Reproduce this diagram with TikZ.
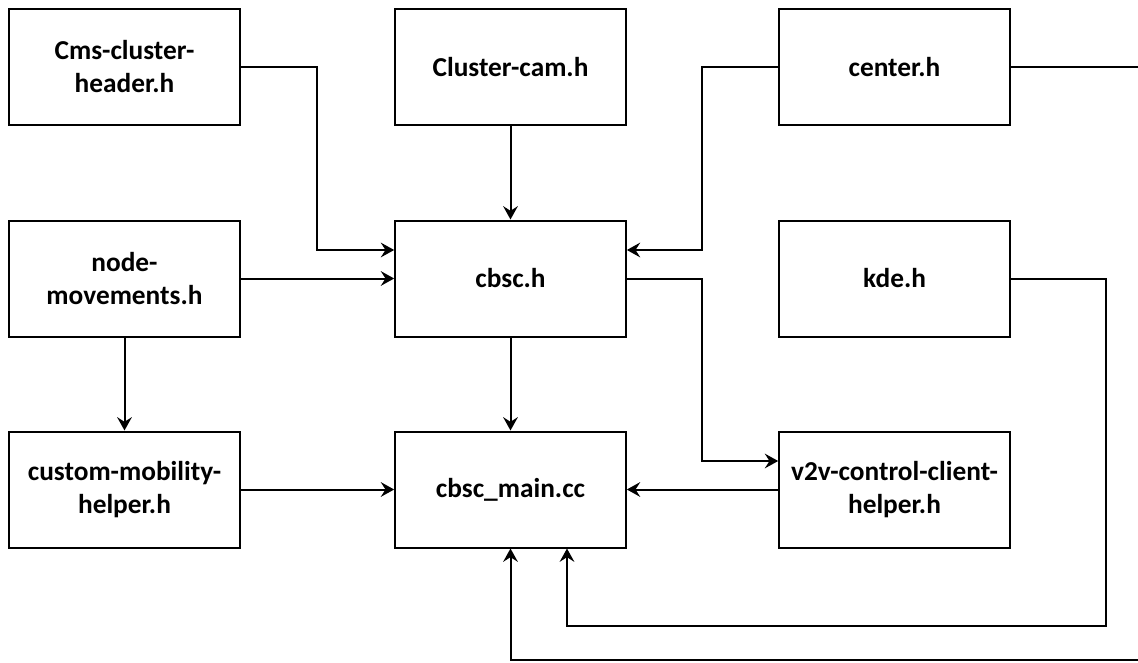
\documentclass[tikz,border=0pt]{standalone}
\usepackage{fontspec}
\setmainfont{Carlito}
\usetikzlibrary{arrows.meta, positioning}

\begin{document}
\begin{tikzpicture}[x=0.75pt, y=-0.75pt,
   filebox/.style={draw, line width=1.5pt, minimum width=173pt, minimum height=87pt,
      inner sep=0pt, align=center, font=\bfseries\fontsize{20.5}{24.75}\selectfont},
   link/.style={line width=1.5pt, -{Stealth[length=10pt, width=11pt, inset=3.5pt]}}]
   % Frame of the page
   \useasboundingbox (0,0) rectangle (1138,663);
   \clip (0,0) rectangle (1138,663);
   % Top row
   \node[filebox] (cms) at (124.5,67) {Cms-cluster-\\header.h};
   \node[filebox] (cam) at (510.5,67) {Cluster-cam.h};
   \node[filebox] (center) at (894.5,67) {center.h};
   % Middle row
   \node[filebox] (movements) at (124.5,278.5) {node-\\movements.h};
   \node[filebox] (cbsc) at (510.5,278.5) {cbsc.h};
   \node[filebox] (kde) at (894.5,278.5) {kde.h};
   % Bottom row
   \node[filebox] (mobility) at (124.5,489.5) {custom-mobility-\\helper.h};
   \node[filebox] (cbscmain) at (510.5,489.5) {cbsc\_main.cc};
   \node[filebox] (v2v) at (894.5,489.5) {v2v-control-client-\\helper.h};
   % Bends of the routed connectors
   \coordinate (hdrbend) at (317,250);
   \coordinate (ctrbend) at (702,250);
   \coordinate (cbscbend) at (702,461);
   \coordinate (kdebend) at (1106,626);
   \coordinate (kdeup) at (567,626);
   \coordinate (ctrout) at (1160,67);
   \coordinate (ctrloop) at (1160,660);
   % Into cbsc.h
   \draw[link] (cms.east) -| (hdrbend) -- (hdrbend -| cbsc.west);
   \draw[link] (movements.east) -- (cbsc.west);
   \draw[link] (cam.south) -- (cbsc.north);
   \draw[link] (center.west) -| (ctrbend) -- (ctrbend -| cbsc.east);
   % Left column
   \draw[link] (movements.south) -- (mobility.north);
   % Into cbsc_main.cc
   \draw[link] (mobility.east) -- (cbscmain.west);
   \draw[link] (cbsc.south) -- (cbscmain.north);
   \draw[link] (cbsc.east) -| (cbscbend) -- (cbscbend -| v2v.west);
   \draw[link] (v2v.west) -- (cbscmain.east);
   \draw[link] (kde.east) -| (kdebend) -- (kdeup) -- (kdeup |- cbscmain.south);
   \draw[link] (center.east) -- (ctrout) -- (ctrloop) -| (cbscmain.south);
\end{tikzpicture}
\end{document}
